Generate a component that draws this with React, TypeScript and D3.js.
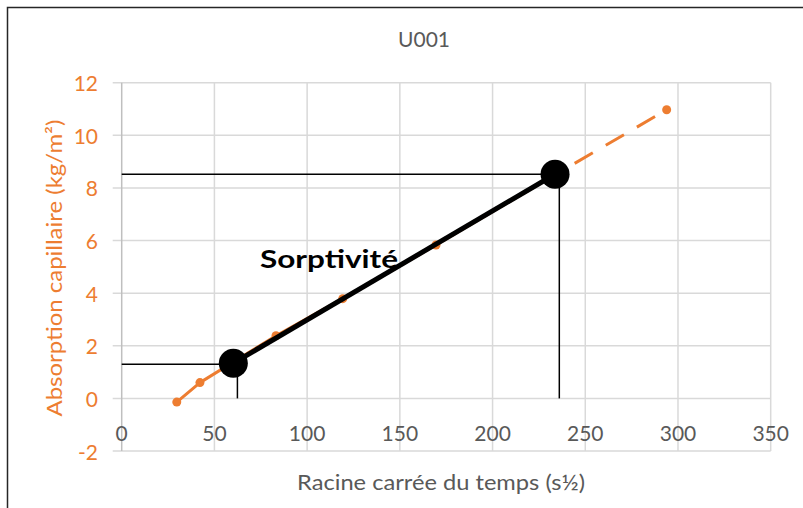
import { line, range, scaleLinear } from "d3";

const title = "U001";
const xTitle = "Racine carrée du temps (s½)";
const yTitle = "Absorption capillaire (kg/m²)";
const label = "Sorptivité";

const xTicks = range(0, 351, 50);
const yTicks = range(-2, 13, 2);

// orange measurement series (sqrt(t), absorption)
const seriesX = [29.7, 42.2, 83.2, 119.2, 169.5, 233.7, 293.9];
const seriesY = [-0.14, 0.6, 2.38, 3.79, 5.83, 8.5, 10.97];
// segments from this index on are drawn dashed
const dashFrom = 5;

// sorptivity fit, two big points
const fitX = [60.2, 233.7];
const fitY = [1.34, 8.52];
// guide lines dropped from the fit points to the axes
const guideX = [62.4, 236];
const guideY = [1.3, 8.52];

const W = 803,
  H = 508;
const ORANGE = "#ED7D31";
const GREY = "#595959";
const FONT = "Lato, 'Liberation Sans', sans-serif";

export default function App() {
  const x = scaleLinear().domain([0, 350]).range([121.7, 770.7]);
  const y = scaleLinear().domain([-2, 12]).range([451, 82.7]);
  const pts = seriesX.map((v, i) => [v, seriesY[i]] as [number, number]);
  const ln = line<[number, number]>()
    .x((d) => x(d[0]))
    .y((d) => y(d[1]));
  const solid = pts.slice(0, dashFrom + 1);
  const dashed = pts.slice(dashFrom);
  const fit = fitX.map((v, i) => [v, fitY[i]] as [number, number]);

  return (
    <svg
      width={W}
      height={H}
      style={{ position: "absolute", left: 0, top: 0, background: "#fff" }}
      fontFamily={FONT}
    >
      <rect x={7.5} y={7.5} width={W + 20} height={H + 20} fill="#fff" stroke="#262626" strokeWidth={1.5} />
      <text x={424} y={46.5} textAnchor="middle" fontSize={21} fill={GREY}>
        {title}
      </text>

      {/* grid */}
      {yTicks.map((t) => (
        <line key={"gy" + t} x1={x(0) - 9} x2={x(350)} y1={y(t)} y2={y(t)} stroke="#D9D9D9" strokeWidth={1.5} />
      ))}
      {xTicks.map((t) => (
        <line
          key={"gx" + t}
          x1={x(t)}
          x2={x(t)}
          y1={y(12)}
          y2={y(-2)}
          stroke={t === 0 ? "#BFBFBF" : "#D9D9D9"}
          strokeWidth={1.5}
        />
      ))}

      {/* tick labels */}
      {yTicks.map((t) => (
        <text key={"ly" + t} x={98} y={y(t) + 8.5} textAnchor="end" fontSize={21} fill={ORANGE}>
          {t}
        </text>
      ))}
      {xTicks.map((t) => (
        <text key={"lx" + t} x={x(t)} y={440.5} textAnchor="middle" fontSize={21} fill={GREY}>
          {t}
        </text>
      ))}

      {/* axis titles */}
      <text
        x={441}
        y={490}
        textAnchor="middle"
        fontSize={21}
        fill={GREY}
        textLength={288}
        lengthAdjust="spacingAndGlyphs"
      >
        {xTitle}
      </text>
      <text
        transform={`translate(62,268) rotate(-90)`}
        textAnchor="middle"
        fontSize={21}
        fill={ORANGE}
        textLength={297}
        lengthAdjust="spacingAndGlyphs"
      >
        {yTitle}
      </text>

      {/* guide lines */}
      {guideY.map((g, i) => (
        <line key={"hy" + i} x1={x(0)} x2={x(fitX[i])} y1={y(g)} y2={y(g)} stroke="#000" strokeWidth={1.5} />
      ))}
      {guideX.map((g, i) => (
        <line key={"vx" + i} x1={x(g)} x2={x(g)} y1={y(fitY[i])} y2={y(0)} stroke="#000" strokeWidth={1.5} />
      ))}

      {/* orange series */}
      <path d={ln(solid) || ""} fill="none" stroke={ORANGE} strokeWidth={3} strokeLinejoin="round" />
      <path
        d={ln(dashed) || ""}
        fill="none"
        stroke={ORANGE}
        strokeWidth={3}
        strokeDasharray="21 15"
        strokeDashoffset={13.3}
      />
      {pts.map((p, i) => (
        <circle key={"p" + i} cx={x(p[0])} cy={y(p[1])} r={4.5} fill={ORANGE} />
      ))}

      {/* sorptivity fit */}
      <path d={ln(fit) || ""} fill="none" stroke="#000" strokeWidth={5} />
      {fit.map((p, i) => (
        <circle key={"f" + i} cx={x(p[0])} cy={y(p[1])} r={14.5} fill="#000" />
      ))}
      <text x={260} y={268} fontSize={25} fontWeight="bold" fill="#000" textLength={138} lengthAdjust="spacingAndGlyphs">
        {label}
      </text>
    </svg>
  );
}
